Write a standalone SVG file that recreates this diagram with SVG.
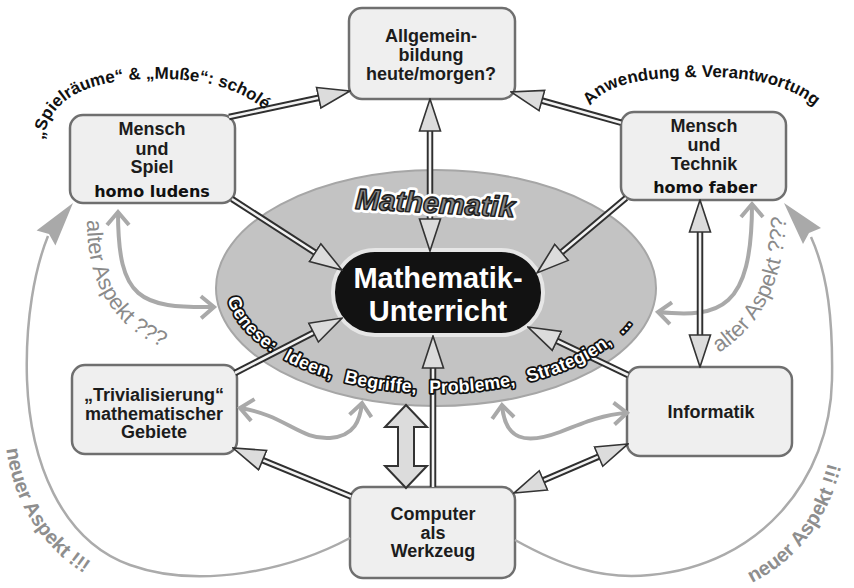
<svg xmlns="http://www.w3.org/2000/svg" width="854" height="588" viewBox="0 0 854 588">
<defs>
<style>
.box{fill:#efefef;stroke:#6f6f6f;stroke-width:2.5}
.t{font-family:"Liberation Sans",Arial,sans-serif;font-weight:bold;font-size:18px;fill:#1c1c1c;text-anchor:middle}
.deco{font-family:"DejaVu Sans",sans-serif;font-weight:bold;font-size:16px;fill:#111;text-anchor:middle}
.so{fill:none;stroke:#2f2f2f;stroke-width:6.5}
.si{fill:none;stroke:#f3f3f3;stroke-width:2.6}
.hd{fill:none;stroke:none;marker-end:url(#ah)}
.hd2{fill:none;stroke:none;marker-start:url(#ah);marker-end:url(#ah)}
.g4{fill:none;stroke:#a9a9a9;stroke-width:4;marker-start:url(#chev);marker-end:url(#chev)}
.gb{fill:none;stroke:#ababab;stroke-width:2.5}
.gh{fill:#a9a9a9}
.arc{font-family:"Liberation Sans",Arial,sans-serif;font-weight:bold;font-size:17px;fill:#111}
.gl{font-family:"Liberation Sans",Arial,sans-serif;font-size:22px;fill:#8a8a8a}
.gn{font-family:"Liberation Sans",Arial,sans-serif;font-size:20px;font-weight:bold;fill:#8e8e8e}
.gen{font-family:"Liberation Sans",Arial,sans-serif;font-weight:bold;font-size:18px;fill:#fff;stroke:#111;stroke-width:3.5;paint-order:stroke;stroke-linejoin:round;word-spacing:8px}
</style>
<marker id="ah" viewBox="0 0 34 24" refX="18" refY="12" markerWidth="34" markerHeight="24" markerUnits="userSpaceOnUse" orient="auto-start-reverse">
<path d="M1,1.5 L33,12 L1,22.5 Z" fill="#dcdcdc" stroke="#333" stroke-width="1.6"/>
</marker>
<marker id="chev" viewBox="0 0 20 26" refX="16" refY="13" markerWidth="20" markerHeight="26" markerUnits="userSpaceOnUse" orient="auto-start-reverse">
<path d="M3,2 L16,13 L3,24" fill="none" stroke="#a9a9a9" stroke-width="4"/>
</marker>
<path id="p-gen" d="M226,285 A210,108 0 0 0 646,285"/>
<path id="p-alterL" d="M87,220 C86,290 120,335 178,353"/>
<path id="p-alterR" d="M719,353 C760,326 786,285 787,200"/>
<path id="p-neuL" d="M6,446 C14,515 55,566 120,592"/>
<path id="p-neuR" d="M752,583 C800,559 835,515 847,438"/>
<path id="p-spiel" d="M44,140 C48,98 90,80 150,79 C210,78 252,90 282,128"/>
<path id="p-anw" d="M590,106 C607,82 650,77 705,77 C760,77 802,88 826,118"/>
</defs>
<rect width="854" height="588" fill="#fff"/>

<g id="n-mathematik">
<ellipse cx="436" cy="288" rx="220" ry="118" fill="#c3c3c3" stroke="#a6a6a6" stroke-width="2"/>
</g>

<g id="n-allgemeinbildung">
<rect class="box" x="349" y="8" width="166" height="91" rx="13"/>
<text class="t" x="431" y="42">Allgemein-</text>
<text class="t" x="431" y="61">bildung</text>
<text class="t" x="431" y="80">heute/morgen?</text>
</g>
<g id="n-spiel">
<rect class="box" x="70" y="115" width="165" height="88" rx="13"/>
<text class="t" x="152" y="135">Mensch</text>
<text class="t" x="152" y="155">und</text>
<text class="t" x="152" y="173">Spiel</text>
<text class="deco" x="152" y="197">homo ludens</text>
</g>
<g id="n-technik">
<rect class="box" x="621" y="112" width="165" height="88" rx="13"/>
<text class="t" x="704" y="132">Mensch</text>
<text class="t" x="704" y="151">und</text>
<text class="t" x="704" y="170">Technik</text>
<text class="deco" x="705" y="193">homo faber</text>
</g>
<g id="n-trivialisierung">
<rect class="box" x="72" y="365" width="165" height="89" rx="13"/>
<text class="t" x="154" y="401">„Trivialisierung“</text>
<text class="t" x="154" y="420">mathematischer</text>
<text class="t" x="154" y="438">Gebiete</text>
</g>
<g id="n-informatik">
<rect class="box" x="627" y="367" width="165" height="89" rx="13"/>
<text class="t" x="711" y="418">Informatik</text>
</g>
<g id="n-computer">
<rect class="box" x="350" y="487" width="165" height="91" rx="13"/>
<text class="t" x="433" y="520">Computer</text>
<text class="t" x="433" y="539">als</text>
<text class="t" x="433" y="557">Werkzeug</text>
</g>
<g id="n-unterricht">
<rect x="333" y="250" width="210" height="85" rx="42" fill="#121212" stroke="#e6e6e6" stroke-width="4"/>
<text class="t" x="438" y="288" style="font-size:29px;fill:#fff">Mathematik-</text>
<text class="t" x="438" y="321" style="font-size:29px;fill:#fff">Unterricht</text>
</g>

<g id="connectors">
<path class="g4" d="M118,212 C118,300 140,308 214,307"/>
<path class="g4" d="M752,204 C752,310 720,318 658,312"/>
<path class="g4" d="M240,408 C285,415 300,440 330,438 C355,436 360,420 362,403"/>
<path class="g4" d="M502,405 C505,440 525,445 560,432 C585,422 605,414 627,413"/>
<path class="gb" d="M350,538 C290,570 200,590 130,565 C60,540 30,460 27,380 C25,320 35,268 48,236"/>
<polygon class="gh" points="73,203 55.4,245.5 49,234 36.6,230.5"/>
<path class="gb" d="M515,540 C560,565 600,580 650,575 C760,565 830,480 832,380 C833,320 828,275 811,237"/>
<polygon class="gh" points="784,203 821,228 809,233 803,244"/>
<g>
<path class="so" d="M229,117 L335.3,94.2"/><path class="si" d="M229,117 L335.3,94.2"/><path class="hd" d="M229,117 L335.3,94.2"/>
<path class="so" d="M621,122.7 L525.5,96"/><path class="si" d="M621,122.7 L525.5,96"/><path class="hd" d="M621,122.7 L525.5,96"/>
<path class="so" d="M430,114 L430,236"/><path class="si" d="M430,114 L430,236"/><path class="hd2" d="M430,114 L430,236"/>
<path class="so" d="M232,199 L329.4,261.9"/><path class="si" d="M232,199 L329.4,261.9"/><path class="hd" d="M232,199 L329.4,261.9"/>
<path class="so" d="M626,198 L548.5,263.3"/><path class="si" d="M626,198 L548.5,263.3"/><path class="hd" d="M626,198 L548.5,263.3"/>
<path class="so" d="M235,373 L328.7,324.9"/><path class="si" d="M235,373 L328.7,324.9"/><path class="hd" d="M235,373 L328.7,324.9"/>
<path class="so" d="M628,375 L541.5,333.5"/><path class="si" d="M628,375 L541.5,333.5"/><path class="hd" d="M628,375 L541.5,333.5"/>
<path class="so" d="M433,487 L433,351"/><path class="si" d="M433,487 L433,351"/><path class="hd" d="M433,487 L433,351"/>
<path class="so" d="M351,496.5 L246.9,453.7"/><path class="si" d="M351,496.5 L246.9,453.7"/><path class="hd" d="M351,496.5 L246.9,453.7"/>
<path class="so" d="M527.8,487.1 L614.2,449.9"/><path class="si" d="M527.8,487.1 L614.2,449.9"/><path class="hd2" d="M527.8,487.1 L614.2,449.9"/>
<path class="so" d="M700,215 L700,352"/><path class="si" d="M700,215 L700,352"/><path class="hd2" d="M700,215 L700,352"/>
</g>
<polygon points="406,405 427,427 414,427 414,466 427,466 406,488 385,466 398,466 398,427 385,427" fill="#dcdcdc" stroke="#333" stroke-width="2" stroke-linejoin="miter"/>
</g>

<g id="n-mathematik-label">
<g transform="rotate(3 435 205)" style="font-family:'Liberation Sans',Arial,sans-serif;font-weight:bold;font-style:italic;font-size:29px;text-anchor:middle">
<text x="435" y="213" fill="#fff" stroke="#fff" stroke-width="7" stroke-linejoin="round">Mathematik</text>
<text x="435" y="213" fill="#8a8a8a" stroke="#222" stroke-width="1.6" stroke-linejoin="round">Mathematik</text>
</g>
</g>

<g id="genese-label">
<text class="gen"><textPath href="#p-gen" startOffset="14">Genese: Ideen, Begriffe, Probleme, Strategien, ...</textPath></text>
</g>

<g id="labels">
<text class="arc"><textPath href="#p-spiel">„Spielräume“ &amp; „Muße“: scholé</textPath></text>
<text class="arc"><textPath href="#p-anw">Anwendung &amp; Verantwortung</textPath></text>
<text class="gl"><textPath href="#p-alterL">alter Aspekt ???</textPath></text>
<text class="gl"><textPath href="#p-alterR">alter Aspekt ???</textPath></text>
<text class="gn"><textPath href="#p-neuL" startOffset="3">neuer Aspekt !!!</textPath></text>
<text class="gn"><textPath href="#p-neuR">neuer Aspekt !!!</textPath></text>
</g>
</svg>
